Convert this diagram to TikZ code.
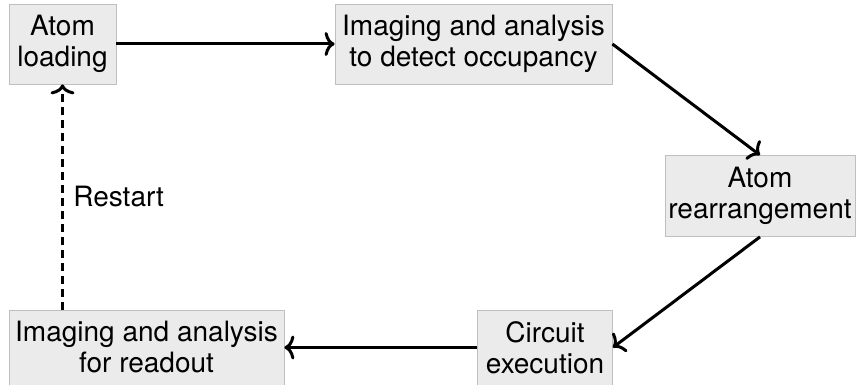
\documentclass[tikz,border=0pt]{standalone}
\usepackage{fontspec}
\setmainfont{TeX Gyre Heros}
\usetikzlibrary{arrows.meta}
\begin{document}
\begin{tikzpicture}[x=1pt,y=-1pt,
  box/.style={draw=black!25,fill=black!8,line width=0.8pt,inner sep=0pt,
    align=center,font=\fontsize{28}{31}\selectfont},
  flow/.style={line width=3pt,-{To[length=10pt,width=24pt]}},
  back/.style={flow,dash pattern=on 8pt off 5pt}]
\useasboundingbox (0,0) rectangle (857,385);
\node[box,minimum width=107pt,minimum height=80pt] (load) at (62.5,44) {Atom\\loading};
\node[box,minimum width=277pt,minimum height=80pt] (img) at (473.5,44) {Imaging and analysis\\to detect occupancy};
\node[box,minimum width=190pt,minimum height=81pt] (rearr) at (760,196) {Atom\\rearrangement};
\node[box,minimum width=135pt,minimum height=75pt] (circ) at (545,347.5) {Circuit\\execution};
\node[box,minimum width=275pt,minimum height=75pt] (read) at (146.5,347.5) {Imaging and analysis\\for readout};
\draw[flow] (load.east) -- (img.west);
\draw[flow] (img.east) -- (rearr.north);
\draw[flow] (rearr.south) -- (circ.east);
\draw[flow] (circ.west) -- (read.east);
\draw[back] (read.north -| load.south) -- node[right=6pt,font=\fontsize{28}{31}\selectfont]{Restart} (load.south);
\end{tikzpicture}
\end{document}
